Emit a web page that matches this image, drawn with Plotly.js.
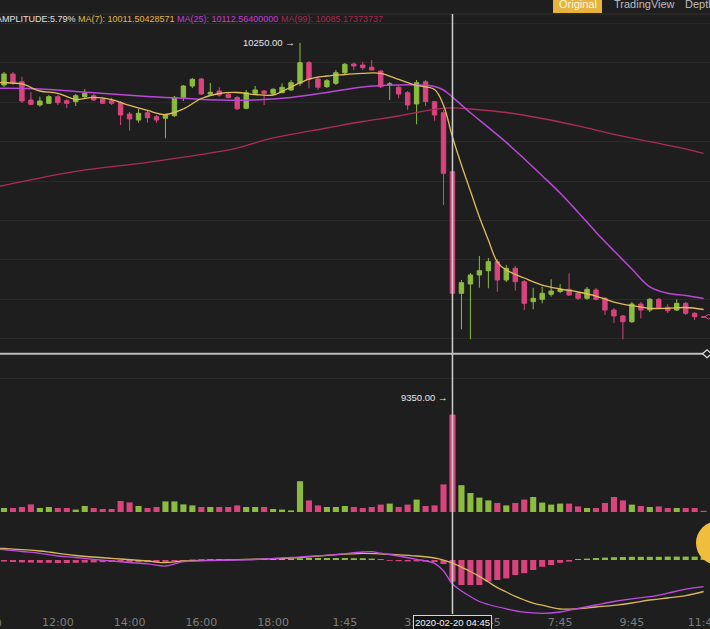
<!DOCTYPE html>
<html><head><meta charset="utf-8">
<script src="https://cdn.plot.ly/plotly-3.0.1.min.js"></script>
<style>html,body{margin:0;padding:0;background:#1e1e1f;overflow:hidden}</style>
</head><body><div id="chart" style="width:710px;height:629px"></div>
<script>
// ---- 15-minute candles (index 50 = 2020-02-20 04:45, the crosshair candle) ----
const openP  = [10143.4,10171.0,10151.8,10105.4,10092.7,10097.0,10113.8,10103.6,10101.1,10113.8,
                10116.3,10107.9,10103.6,10098.6,10069.9,10054.7,10073.2,10063.1,10059.0,10065.6,
                10112.2,10140.9,10158.6,10120.6,10128.2,10119.8,10111.7,10084.4,10122.4,10128.2,
                10122.4,10123.9,10130.8,10147.7,10200.0,10158.6,10139.1,10147.7,10174.6,10196.7,
                10194.1,10188.3,10178.9,10143.4,10137.6,10123.9,10095.3,10151.8,10101.1,10073.2,
                9923.6,9615.4,9639.0,9661.8,9672.7,9695.5,9649.1,9678.8,9644.8,9594.1,
                9600.2,9612.9,9620.0,9625.5,9615.4,9602.7,9623.8,9602.7,9573.0,9557.9,
                9543.4,9588.3,9573.0,9600.2,9579.9,9573.0,9590.0,9564.7,9556.0];
const highP  = [10176.4,10176.0,10164.5,10125.7,10113.8,10118.0,10118.0,10108.0,10120.6,10133.3,
                10120.6,10113.0,10111.0,10102.9,10075.0,10082.6,10077.5,10067.4,10070.0,10115.5,
                10143.4,10161.2,10161.2,10148.5,10137.6,10123.0,10115.5,10130.8,10140.9,10130.8,
                10135.0,10147.8,10156.0,10250.0,10204.3,10164.5,10158.6,10181.5,10199.2,10200.0,
                10202.5,10206.8,10181.5,10151.0,10140.9,10128.2,10156.0,10156.0,10102.9,10080.0,
                9928.0,9649.0,9666.8,9710.0,9705.0,9702.4,9687.0,9684.6,9649.0,9629.6,
                9632.1,9650.9,9639.0,9666.0,9618.7,9631.4,9628.8,9606.0,9578.0,9560.4,
                9593.4,9593.4,9603.5,9603.5,9588.0,9600.2,9593.4,9568.0,9557.0];
const lowP   = [10138.4,10143.0,10097.8,10092.7,10088.4,10095.0,10092.7,10085.0,10090.2,10110.5,
                10102.9,10095.0,10092.7,10042.0,10027.6,10047.9,10047.9,10047.9,10008.3,10062.3,
                10102.9,10135.8,10118.0,10118.0,10113.8,10110.5,10080.1,10081.8,10118.0,10092.7,
                10118.0,10123.0,10128.2,10140.9,10135.0,10130.8,10135.8,10143.4,10171.3,10181.5,
                10181.5,10181.5,10135.8,10105.4,10109.7,10080.1,10043.8,10090.2,10053.0,9839.2,
                9350.0,9524.1,9498.8,9629.6,9628.1,9619.4,9644.0,9622.0,9573.0,9574.8,
                9590.0,9606.8,9616.0,9608.5,9598.4,9598.4,9597.9,9560.4,9540.0,9498.8,
                9540.0,9552.0,9568.0,9575.6,9565.5,9570.5,9560.4,9547.7,9554.0];
const closeP = [10171.3,10149.3,10102.9,10094.5,10102.9,10113.8,10098.6,10097.0,10116.3,10122.4,
                10105.4,10097.0,10097.0,10067.4,10057.2,10071.7,10060.5,10054.7,10067.4,10112.2,
                10140.9,10157.9,10120.6,10124.9,10118.0,10111.2,10083.1,10123.9,10130.8,10122.4,
                10132.5,10137.6,10149.3,10200.0,10157.9,10137.6,10154.3,10174.6,10195.9,10191.6,
                10187.3,10181.5,10139.1,10146.0,10120.6,10092.7,10149.3,10101.6,10067.4,9919.6,
                9615.4,9642.3,9661.8,9672.7,9695.5,9649.1,9678.8,9644.8,9590.0,9602.7,
                9615.4,9621.2,9625.5,9611.0,9602.7,9625.5,9600.2,9573.0,9557.9,9543.4,
                9588.3,9573.0,9600.2,9579.9,9571.3,9590.0,9564.7,9556.0,9555.0];
const volume = [100,100,125,190,100,125,100,100,60,150,
                100,75,75,275,240,150,100,125,265,265,
                190,165,125,125,125,125,165,125,125,125,
                75,60,40,770,290,165,125,125,150,125,
                100,125,185,210,125,185,310,150,165,690,
                2435,670,475,360,290,225,165,225,310,375,
                235,185,210,210,140,100,100,225,375,290,
                185,150,125,140,100,100,100,100,30];

// ---- moving averages (first point = left edge of the view) ----
const ma7X  = [-0.45,0,2,4,6,8,10,12,14,16,18,20,22,24,26,28,30,32,34,36,38,40,42,44,46,48,49,50,51,52,53,54,55,56,58,60,62,64,66,68,70,72,74,76,78];
const ma7   = [10149.3,10149.3,10146.0,10128.2,10122.4,10106.7,10112.2,10106.2,10091.5,10078.8,10068.6,
               10082.6,10109.2,10121.9,10124.4,10119.3,10118.1,10138.4,10158.6,10166.2,10170.0,
               10173.1,10173.1,10157.4,10142.2,10132.0,10092.0,10011.5,9940.6,9874.7,9808.8,
               9750.5,9694.7,9674.5,9654.2,9636.4,9626.3,9618.7,9608.5,9593.3,9583.9,
               9577.4,9577.4,9579.4,9574.3];
const ma25X = [-0.45,0,4,8,12,16,20,24,28,32,36,40,44,46,48,49,50,52,54,56,58,60,62,64,66,68,70,72,74,76,78];
const ma25  = [10135.1,10135.1,10133.3,10126.9,10120.6,10114.3,10109.7,10105.4,10105.4,10111.7,10124.4,
               10138.4,10143.4,10143.4,10139.6,10130.7,10112.6,10073.0,10036.0,9997.9,9956.3,
               9913.5,9869.6,9821.0,9770.3,9723.1,9677.0,9631.9,9615.4,9609.8,9602.2];
const ma99X = [-0.45,0,8,16,22,26,30,36,40,44,48,50,52,56,60,64,68,72,76,78];
const ma99  = [9887.4,9889.2,9924.2,9947.0,9967.3,9983.7,10009.1,10034.4,10050.9,10064.8,10081.8,
               10085.2,10082.6,10073.7,10058.5,10039.5,10018.5,9999.7,9981.2,9969.8];

// ---- MACD ----
const macdHist = [-4,-5,-6,-6.5,-7,-7,-7.5,-7.5,-7,-6.5,
                  -6,-5.5,-5,-5,-5,-5,-5.5,-6,-5,-3,
                  -1.5,1,1.5,2,2,2,2,2,2.5,2.5,
                  3,3,3.5,4.5,5,5,5,5,5,4.5,
                  4.5,3.5,2,-2,-3,-3.5,-3.5,-4,-5,-10,
                  -54,-62.5,-62.5,-62.5,-54,-50,-46,-37.5,-33,-25,
                  -17,-12.5,-7,-4,2.5,3.5,5,6,7,7.5,
                  8,8,8,8,8.5,8.5,8.5,8.5,8.5];
const difX = [-0.45,0,2,4,6,8,10,12,14,16,18,19,20,24,28,32,36,40,41,42,44,46,48,49,50,51,52,53,54,56,58,60,62,64,66,68,70,72,74,76,78];
const dif  = [26.75,26.25,21.25,16.75,10,6.25,1.75,-2.5,-6.25,-9.5,-15,-10,-4.25,-0.75,1.25,6.25,12,20,20.75,17,10,
              1.75,-8.25,-27.5,-60,-77.5,-91.25,-103.75,-111.25,-122,-130.5,-133.25,-130,-121.25,-112.5,-103.75,-97,-91.75,-83,-73,-66.75];
const deaX = [-0.45,0,4,8,12,16,18,20,24,28,32,36,40,44,46,48,49,50,51,52,53,54,55,56,57,58,59,60,62,64,66,68,70,72,74,76,78];
const dea  = [29.25,28.75,22.5,11.25,4.25,-2.5,-6.75,-2.5,-0.5,2,5,11.5,16.75,13,10,5,0,-7.5,-18,-28.75,-41,
              -55,-69,-80,-91,-100,-108,-113,-122.5,-121.75,-117.5,-113.25,-107.5,-100,-95,-89.25,-78.75];

// ---- axis labels ----
const tickIdx  = [6,14,22,30,38,46,54,62,70,78];
const tickText = ["12:00","14:00","16:00","18:00","1:45","3:45","5:45","7:45","9:45","11:45"];
const priceGrid = [9400,9500,9600,9700,9800,9900,10000,10100,10200,10300];

const UP = '#8cbc3f', DOWN = '#d9447c';
const candleIdx = openP.map((_, i) => i);
const volColors = openP.map((o, i) => closeP[i] >= o ? UP : DOWN);
const histColors = macdHist.map(v => v >= 0 ? UP : DOWN);

const traces = [
  {type:'candlestick', x:candleIdx, open:openP, high:highP, low:lowP, close:closeP,
   xaxis:'x', yaxis:'y', whiskerwidth:0,
   increasing:{line:{color:UP, width:1}, fillcolor:UP},
   decreasing:{line:{color:DOWN, width:1}, fillcolor:DOWN}, hoverinfo:'skip'},
  {type:'scatter', mode:'lines', x:ma99X, y:ma99, xaxis:'x', yaxis:'y', line:{color:'#ad2c57', width:1.3, shape:'spline'}, hoverinfo:'skip'},
  {type:'scatter', mode:'lines', x:ma25X, y:ma25, xaxis:'x', yaxis:'y', line:{color:'#b948d8', width:1.5, shape:'spline'}, hoverinfo:'skip'},
  {type:'scatter', mode:'lines', x:ma7X, y:ma7, xaxis:'x', yaxis:'y', line:{color:'#e2bd5c', width:1.3, shape:'spline'}, hoverinfo:'skip'},
  {type:'bar', x:candleIdx, y:volume, xaxis:'x', yaxis:'y2', width:0.68, marker:{color:volColors, line:{width:0}}, hoverinfo:'skip'},
  {type:'bar', x:candleIdx, y:macdHist, xaxis:'x', yaxis:'y3', width:0.68, marker:{color:histColors, line:{width:0}}, hoverinfo:'skip'},
  {type:'scatter', mode:'lines', x:deaX, y:dea, xaxis:'x', yaxis:'y3', line:{color:'#d9b85a', width:1.3, shape:'spline'}, hoverinfo:'skip'},
  {type:'scatter', mode:'lines', x:difX, y:dif, xaxis:'x', yaxis:'y3', line:{color:'#c04ce0', width:1.3, shape:'spline'}, hoverinfo:'skip'}
];

const H = 600, TOP = 14; // plot area px
const py = px => (TOP + H - px) / H; // paper y from pixel y

const layout = {
  width:710, height:629,
  margin:{l:0, r:0, t:14, b:15},
  paper_bgcolor:'#1e1e1f', plot_bgcolor:'rgba(0,0,0,0)',
  showlegend:false, boxgap:0.3,
  font:{family:'Liberation Sans, Arial, sans-serif', color:'#dddddd'},
  xaxis:{range:[-0.446, 78.71], anchor:'y3', showgrid:false, zeroline:false, showline:false,
         ticks:'', tickmode:'array', tickvals:tickIdx, ticktext:tickText, ticklabeloverflow:'allow',
         tickfont:{family:'DejaVu Sans', size:11, color:'#7e7e7e'},
         rangeslider:{visible:false}, fixedrange:true},
  yaxis:{domain:[0.17, 1], range:[9061.0, 10323.4], tickmode:'array', tickvals:priceGrid,
         showticklabels:false, gridcolor:'#2a2a2b', gridwidth:1, zeroline:false, fixedrange:true},
  yaxis2:{domain:[0.17, 0.3367], range:[0, 2500], tickmode:'array', tickvals:[2500],
          showticklabels:false, gridcolor:'#262627', zeroline:false, fixedrange:true},
  yaxis3:{domain:[0, 0.1683], range:[-135, 117.5], showgrid:false, showticklabels:false,
          zeroline:false, fixedrange:true},
  shapes:[
    {type:'line', xref:'paper', yref:'paper', x0:0, x1:1, y0:1, y1:1, line:{color:'#35322d', width:1}},
    {type:'rect', xref:'paper', yref:'paper', x0:553/710, x1:602/710, y0:py(13), y1:py(-2), fillcolor:'#e5b43f', line:{width:0}},
    {type:'line', xref:'x', yref:'paper', x0:50, x1:50, y0:0, y1:1, line:{color:'#cfcfcf', width:1.5}},
    {type:'line', xref:'paper', yref:'y', x0:0, x1:0.99, y0:9462, y1:9462, line:{color:'#bdbdbd', width:2}},
    {type:'path', xref:'paper', yref:'y', path:'M 0.9895 9462 L 0.9958 9472 L 1.002 9462 L 0.9958 9452 Z', line:{color:'#e0e0e0', width:1.2}},
    {type:'path', xref:'paper', yref:'y', path:'M 0.9925 9556 L 0.998 9562 L 1.004 9556 L 0.998 9550 Z', line:{color:'#d9447c', width:1}},
    {type:'circle', xref:'paper', yref:'paper', x0:696/710, x1:740/710, y0:py(565), y1:py(521), fillcolor:'#f1bd3d', line:{width:0}}
  ],
  annotations:[
    {xref:'paper', yref:'paper', x:0, y:py(19), xanchor:'left', yanchor:'middle', xshift:-6, showarrow:false,
     font:{size:9, color:'#e0e0e0'},
     text:'AMPLITUDE:5.79% <span style="color:#e2b84e">MA(7): 10011.50428571</span> <span style="color:#c03fd8">MA(25): 10112.56400000</span> <span style="color:#a3294f">MA(99): 10085.17373737</span>'},
    {xref:'paper', yref:'paper', x:577.5/710, y:py(4), xanchor:'center', yanchor:'middle', showarrow:false,
     font:{size:11, color:'#fff4d6'}, text:'Original'},
    {xref:'paper', yref:'paper', x:612/710, y:py(4), xanchor:'left', yanchor:'middle', showarrow:false,
     font:{size:11, color:'#bdbdbd'}, text:'TradingView'},
    {xref:'paper', yref:'paper', x:683/710, y:py(4), xanchor:'left', yanchor:'middle', showarrow:false,
     font:{size:11, color:'#bdbdbd'}, text:'Depth'},
    {xref:'paper', yref:'paper', x:-14/710, y:0, xanchor:'center', yanchor:'top', yshift:-1, showarrow:false,
     font:{family:'DejaVu Sans', size:11, color:'#7e7e7e'}, text:'10:00'},
    {xref:'x', yref:'y', x:33, y:10250, xanchor:'right', yanchor:'middle', xshift:-3, showarrow:false,
     font:{size:9.5, color:'#e8e8e8'}, text:'10250.00 \u2192'},
    {xref:'x', yref:'y', x:50, y:9350, xanchor:'right', yanchor:'middle', xshift:-3, showarrow:false,
     font:{size:9.5, color:'#e8e8e8'}, text:'9350.00 \u2192'},
    {xref:'x', yref:'paper', x:50, y:0, xanchor:'center', yanchor:'top', yshift:-1, showarrow:false,
     font:{size:9.5, color:'#f2f2f2'}, text:'2020-02-20 04:45',
     bgcolor:'#131313', bordercolor:'#d6d6d6', borderwidth:1, borderpad:1}
  ]
};

Plotly.newPlot('chart', traces, layout, {staticPlot:true, displayModeBar:false});
</script></body></html>
